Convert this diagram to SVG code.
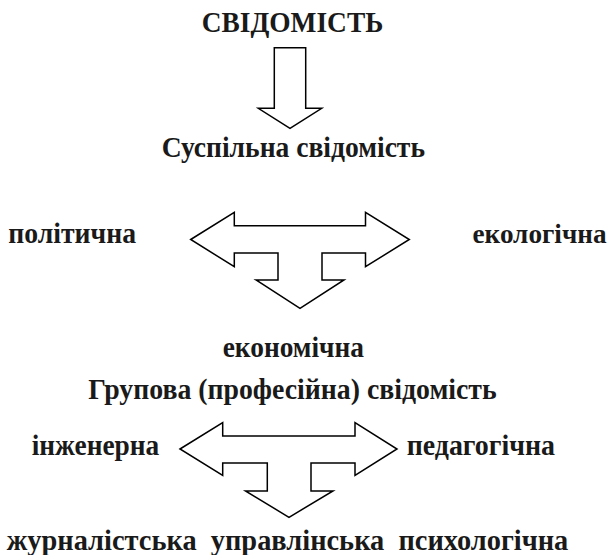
<svg xmlns="http://www.w3.org/2000/svg" width="613" height="555" viewBox="0 0 613 555">
<style>
.t{font-family:"Liberation Serif","Times New Roman","DejaVu Serif",serif;font-weight:bold;font-size:30px;fill:#1a1a1a}
.s{font-size:28px}
.a{fill:#fff;stroke:#000;stroke-width:1.5;stroke-linejoin:miter}
</style>
<rect width="613" height="555" fill="#fff"/>
<g id="connectors">
<path id="arrow-down" class="a" d="M274.3,47.7 H305.7 V108.3 H321.7 L290,128.3 L258.3,108.3 H274.3 Z"/>
<path id="t-arrow-1" class="a" d="M190.7,239.5 L234.3,212.3 V225.7 H365.5 V212.3 L409.3,239.5 L365.5,266.7 V253 H322 V280 H344 L300,308.3 L256,280 H278 V253 H234.3 V266.7 Z"/>
<path id="t-arrow-2" class="a" d="M180,449 L222.7,422.7 V436 H355 V422.7 L397,449 L355,475.3 V463 H311 V491 H333 L289,517.3 L245.5,491 H267.3 V463 H222.7 V475.3 Z"/>
</g>
<g id="n-svidomist"><text class="t" x="201.7" y="32.3" textLength="181.6" lengthAdjust="spacingAndGlyphs">СВІДОМІСТЬ</text></g>
<g id="n-suspilna"><text class="t" x="161.7" y="157.3" textLength="263.3" lengthAdjust="spacingAndGlyphs">Суспільна свідомість</text></g>
<g id="n-politychna"><text class="t" x="8.3" y="242.7" textLength="127.7" lengthAdjust="spacingAndGlyphs">політична</text></g>
<g id="n-ekolohichna"><text class="t s" x="472.5" y="242.7" textLength="134" lengthAdjust="spacingAndGlyphs">екологічна</text></g>
<g id="n-ekonomichna"><text class="t" x="222.7" y="357.3" textLength="141.3" lengthAdjust="spacingAndGlyphs">економічна</text></g>
<g id="n-hrupova"><text class="t" x="88.3" y="398.5" textLength="408.4" lengthAdjust="spacingAndGlyphs">Групова (професійна) свідомість</text></g>
<g id="n-inzhenerna"><text class="t" x="31.7" y="455" textLength="127.6" lengthAdjust="spacingAndGlyphs">інженерна</text></g>
<g id="n-pedahohichna"><text class="t" x="406.7" y="455" textLength="148.3" lengthAdjust="spacingAndGlyphs">педагогічна</text></g>
<g id="n-bottom"><text class="t" x="6.7" y="549.5" textLength="561.6" lengthAdjust="spacingAndGlyphs" xml:space="preserve">журналістська  управлінська  психологічна</text></g>
</svg>
